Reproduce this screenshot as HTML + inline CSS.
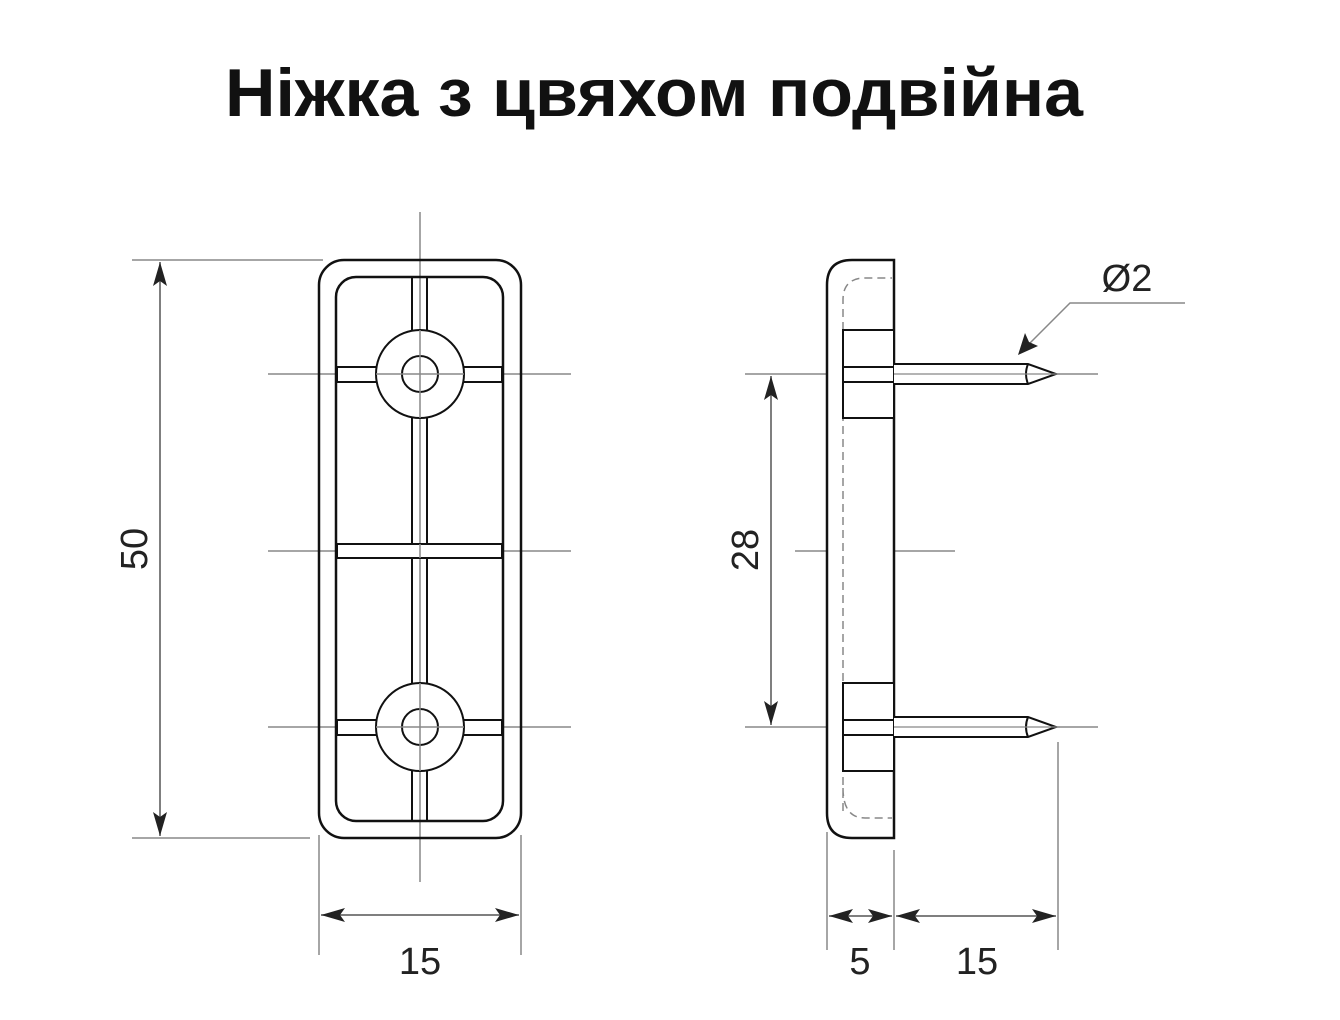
<!DOCTYPE html>
<html><head><meta charset="utf-8"><style>
html,body{margin:0;padding:0;background:#fff;width:1340px;height:1020px;overflow:hidden}
</style></head><body>
<svg width="1340" height="1020" viewBox="0 0 1340 1020" xmlns="http://www.w3.org/2000/svg">
<defs>
<marker id="a" viewBox="0 0 24 14" refX="24" refY="7" markerWidth="24" markerHeight="14" markerUnits="userSpaceOnUse" orient="auto-start-reverse"><path d="M0,0 L24,7 L0,14 L5,7 Z" fill="#222"/></marker>
</defs>
<text x="654" y="116" text-anchor="middle" font-family="Liberation Sans, sans-serif" font-size="68" font-weight="bold" fill="#111" textLength="858" lengthAdjust="spacingAndGlyphs">Ніжка з цвяхом подвійна</text>

<g stroke="#888" stroke-width="1.5" fill="none">
<line x1="420" y1="212" x2="420" y2="882"/>
<line x1="268" y1="374" x2="571" y2="374"/>
<line x1="268" y1="551" x2="571" y2="551"/>
<line x1="268" y1="727" x2="571" y2="727"/>
<line x1="132" y1="260" x2="323" y2="260"/>
<line x1="132" y1="838" x2="310" y2="838"/>
<line x1="319" y1="835" x2="319" y2="955"/>
<line x1="521" y1="835" x2="521" y2="955"/>
</g>
<g stroke="#111" stroke-width="2.5" fill="none">
<rect x="319" y="260" width="202" height="578" rx="25"/>
<rect x="336" y="277" width="167" height="544" rx="20"/>
</g>
<g stroke="#111" stroke-width="2" fill="#fff">
<line x1="412" y1="278" x2="412" y2="820"/><line x1="427" y1="278" x2="427" y2="820"/>
<rect x="337" y="367" width="165" height="15"/>
<rect x="337" y="544" width="165" height="14"/>
<rect x="337" y="720" width="165" height="15"/>
<circle cx="420" cy="374" r="44"/><circle cx="420" cy="374" r="18"/>
<circle cx="420" cy="727" r="44"/><circle cx="420" cy="727" r="18"/>
</g>
<g stroke="#888" stroke-width="1.5"><line x1="420" y1="330" x2="420" y2="418"/><line x1="376" y1="374" x2="464" y2="374"/><line x1="420" y1="683" x2="420" y2="771"/><line x1="376" y1="727" x2="464" y2="727"/><line x1="420" y1="544" x2="420" y2="558"/></g>

<g stroke="#555" stroke-width="1.5" fill="none">
<line x1="160" y1="262" x2="160" y2="836" marker-start="url(#a)" marker-end="url(#a)"/>
<line x1="321" y1="915" x2="519" y2="915" marker-start="url(#a)" marker-end="url(#a)"/>
</g>
<text transform="translate(147,549) rotate(-90)" text-anchor="middle" font-family="Liberation Sans, sans-serif" font-size="38" fill="#222">50</text>
<text x="420" y="974" text-anchor="middle" font-family="Liberation Sans, sans-serif" font-size="38" fill="#222">15</text>

<g stroke="#888" stroke-width="1.5" fill="none">
<line x1="745" y1="374" x2="1098" y2="374"/>
<line x1="745" y1="727" x2="1098" y2="727"/>
<line x1="795" y1="551" x2="955" y2="551"/>
<line x1="827" y1="832" x2="827" y2="950"/>
<line x1="894" y1="850" x2="894" y2="950"/>
<line x1="1058" y1="742" x2="1058" y2="950"/>
<path d="M1185,303 L1070,303 L1030,343"/>
</g>
<g stroke="#111" stroke-width="2.5" fill="#fff">
<path d="M894,260 L852,260 Q827,260 827,285 L827,813 Q827,838 852,838 L894,838 Z"/>
</g>
<path d="M843,811 L843,300 Q843,278 865,278 L892,278 M843,788 Q843,818 865,818 L892,818" stroke="#888" stroke-width="1.5" fill="none" stroke-dasharray="8,5"/>
<g stroke="#111" stroke-width="2" fill="#fff">
<rect x="843" y="330" width="51" height="88"/>
<line x1="843" y1="367" x2="894" y2="367"/><line x1="843" y1="382" x2="894" y2="382"/>
<rect x="843" y="683" width="51" height="88"/>
<line x1="843" y1="720" x2="894" y2="720"/><line x1="843" y1="735" x2="894" y2="735"/>
<path d="M894,364 L1028,364 L1056,374 L1028,384 L894,384"/>
<path d="M1028,364 Q1024,374 1028,384" fill="none"/>
<path d="M894,717 L1028,717 L1056,727 L1028,737 L894,737"/>
<path d="M1028,717 Q1024,727 1028,737" fill="none"/>
</g>
<g stroke="#888" stroke-width="1.2"><line x1="894" y1="374" x2="1060" y2="374"/><line x1="894" y1="727" x2="1060" y2="727"/></g>
<path d="M1018,355 L1025,333 L1029,342 L1038,346 Z" fill="#222"/>
<g stroke="#555" stroke-width="1.5" fill="none">
<line x1="771" y1="376" x2="771" y2="725" marker-start="url(#a)" marker-end="url(#a)"/>
<line x1="829" y1="916" x2="892" y2="916" marker-start="url(#a)" marker-end="url(#a)"/>
<line x1="896" y1="916" x2="1056" y2="916" marker-start="url(#a)" marker-end="url(#a)"/>
</g>
<text transform="translate(758,550) rotate(-90)" text-anchor="middle" font-family="Liberation Sans, sans-serif" font-size="38" fill="#222">28</text>
<text x="860" y="974" text-anchor="middle" font-family="Liberation Sans, sans-serif" font-size="38" fill="#222">5</text>
<text x="977" y="974" text-anchor="middle" font-family="Liberation Sans, sans-serif" font-size="38" fill="#222">15</text>
<text x="1127" y="291" text-anchor="middle" font-family="Liberation Sans, sans-serif" font-size="38" fill="#222">Ø2</text>
</svg>
</body></html>
